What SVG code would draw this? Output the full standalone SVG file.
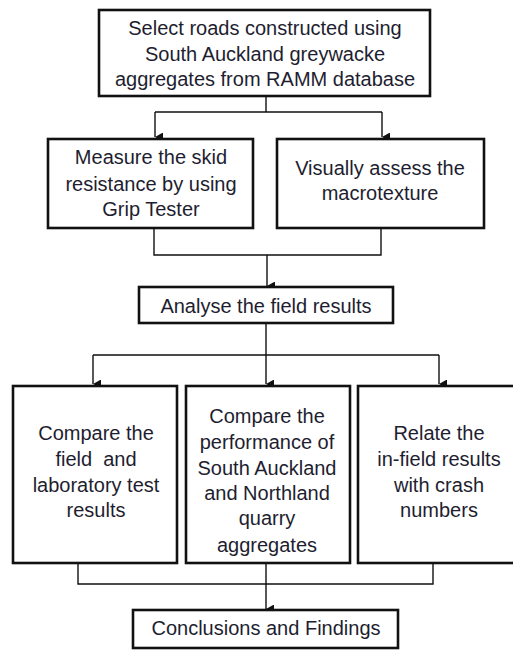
<svg xmlns="http://www.w3.org/2000/svg" width="513" height="650" viewBox="0 0 513 650">
<defs>
<marker id="ah" markerWidth="9" markerHeight="8" refX="4.5" refY="8" orient="auto-start-reverse" markerUnits="userSpaceOnUse" viewBox="0 0 9 8">
<path d="M0,0 L9,0 L4.5,8 Z" fill="#111"/>
</marker>
</defs>
<style>
.box{fill:#fff;stroke:#111;stroke-width:2.6}
.t{font-family:"Liberation Sans",Arial,sans-serif;font-size:20px;fill:#1e1e30;text-anchor:middle}
.c{fill:none;stroke:#111;stroke-width:1.4}
.a{fill:none;stroke:#111;stroke-width:1.4;marker-end:url(#ah)}
</style>
<rect width="513" height="650" fill="#fff"/>
<g id="connectors">
<path class="c" d="M266,96 V112 M155,112 H382"/>
<path class="a" d="M155,112 V137"/>
<path class="a" d="M382,112 V137"/>
<path class="c" d="M154,228 V255 H381 V228"/>
<path class="a" d="M267,255 V286"/>
<path class="c" d="M266,323 V355 M93,355 H439"/>
<path class="a" d="M93,355 V384"/>
<path class="a" d="M266,355 V384"/>
<path class="a" d="M439,355 V384"/>
<path class="c" d="M78,563 V584 H433 V563 M266,563 V584"/>
<path class="a" d="M266,584 V609"/>
</g>
<g id="n1">
<rect class="box" x="99" y="10" width="331" height="86"/>
<text class="t" x="265" y="35">Select roads constructed using</text>
<text class="t" x="265" y="61">South Auckland greywacke</text>
<text class="t" x="265" y="86">aggregates from RAMM database</text>
</g>
<g id="n2">
<rect class="box" x="48" y="139" width="205" height="89"/>
<text class="t" x="151" y="164">Measure the skid</text>
<text class="t" x="151" y="191">resistance by using</text>
<text class="t" x="151" y="216">Grip Tester</text>
</g>
<g id="n3">
<rect class="box" x="277" y="139" width="207" height="89"/>
<text class="t" x="380" y="175">Visually assess the</text>
<text class="t" x="380" y="200">macrotexture</text>
</g>
<g id="n4">
<rect class="box" x="139" y="287" width="254" height="36"/>
<text class="t" x="266" y="313">Analyse the field results</text>
</g>
<g id="n5">
<rect class="box" x="13" y="386" width="164" height="177"/>
<text class="t" x="96" y="440">Compare the</text>
<text class="t" x="96" y="466" xml:space="preserve">field  and</text>
<text class="t" x="96" y="492">laboratory test</text>
<text class="t" x="96" y="517">results</text>
</g>
<g id="n6">
<rect class="box" x="186" y="386" width="164" height="177"/>
<text class="t" x="267" y="423">Compare the</text>
<text class="t" x="267" y="449">performance of</text>
<text class="t" x="267" y="475">South Auckland</text>
<text class="t" x="267" y="500">and Northland</text>
<text class="t" x="267" y="525">quarry</text>
<text class="t" x="267" y="552">aggregates</text>
</g>
<g id="n7">
<rect class="box" x="358" y="386" width="162" height="177"/>
<text class="t" x="439" y="440">Relate the</text>
<text class="t" x="439" y="466">in-field results</text>
<text class="t" x="439" y="492">with crash</text>
<text class="t" x="439" y="517">numbers</text>
</g>
<g id="n8">
<rect class="box" x="133" y="610" width="265" height="38"/>
<text class="t" x="266" y="635">Conclusions and Findings</text>
</g>
</svg>
